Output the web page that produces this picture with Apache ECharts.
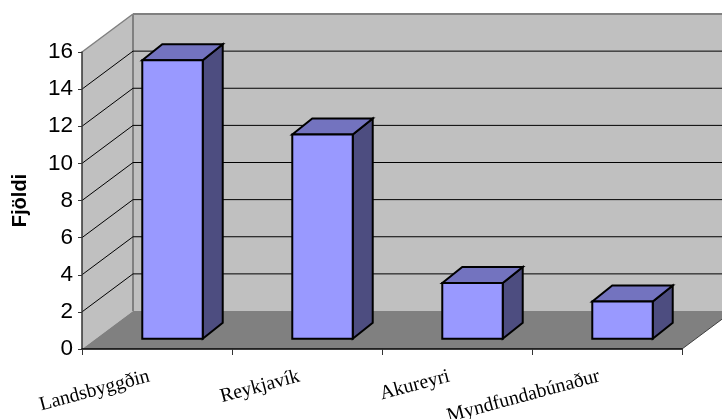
<!DOCTYPE html>
<html><head><meta charset="utf-8">
<style>html,body{margin:0;padding:0;background:#fff}#c{width:722px;height:419px}</style>
<script src="https://cdn.jsdelivr.net/npm/echarts@6/dist/echarts.min.js"></script>
</head><body><div id="c"></div>
<script>
const categories = ['Landsbyggðin','Reykjavík','Akureyri','Myndfundabúnaður'];
const values = [15, 11, 3, 2];
const yMin = 0, yMax = 16, yStep = 2;
const gridTicks = [2,4,6,8,10,12,14];

const WALL_DX = 51, WALL_DY = -38;
const BAR_OFF_X = 15.5, BAR_OFF_Y = -10.3, BAR_DX = 20, BAR_DY = -16, BAR_FRAC = 0.403;

const chart = echarts.init(document.getElementById('c'), null, {renderer:'canvas'});
function poly(points, fill, stroke, lw){
  return {type:'polygon', shape:{points}, style:{fill, stroke: stroke||'none', lineWidth: lw||0, lineJoin:'miter'}};
}
function line(a,b,stroke,lw){
  return {type:'line', shape:{x1:a[0],y1:a[1],x2:b[0],y2:b[1]}, style:{stroke,lineWidth:lw}};
}
chart.setOption({
  animation:false,
  backgroundColor:'#fff',
  grid:{left:82,right:40,top:52,height:297,containLabel:false,outerBoundsMode:'none'},
  xAxis:{type:'category',data:categories,z:10,
    axisLine:{lineStyle:{color:'#000',width:1.5}},
    axisTick:{show:true,alignWithLabel:false,length:6,lineStyle:{color:'#333',width:1}},
    axisLabel:{interval:0,rotate:15,margin:25,color:'#000',fontFamily:'Liberation Serif',fontSize:19.8,hideOverlap:false,padding:[0,8,0,0]},
    splitLine:{show:false}},
  yAxis:{type:'value',min:yMin,max:yMax,interval:yStep,z:10,
    name:'Fjöldi',nameLocation:'middle',nameGap:52,nameRotate:90,
    nameTextStyle:{color:'#000',fontFamily:'Liberation Sans',fontWeight:'bold',fontSize:20},
    axisLine:{show:true,lineStyle:{color:'#333',width:1.5}},
    axisTick:{show:true,length:4,lineStyle:{color:'#333',width:1}},
    axisLabel:{margin:9,color:'#000',fontFamily:'Liberation Sans',fontSize:22.5},
    splitLine:{show:false}},
  series:[
    {type:'custom',z:1,silent:true,clip:false,data:[[0]],
     renderItem(params,api){
       const cs=params.coordSys;
       const x0=cs.x,x1=cs.x+cs.width,y0=cs.y+cs.height,yT=cs.y;
       const t=(p)=>[p[0]+WALL_DX,p[1]+WALL_DY];
       const children=[
         poly([t([x0,yT]),t([x1,yT]),t([x1,y0]),t([x0,y0])],'#c0c0c0'),
         poly([[x0,yT],t([x0,yT]),t([x0,y0]),[x0,y0]],'#c0c0c0'),
         poly([[x0,y0],[x1,y0],t([x1,y0]),t([x0,y0])],'#808080'),
         line([x0,yT],t([x0,yT]),'#808080',1.5),
         line(t([x0,yT]),t([x1,yT]),'#808080',2),
         line(t([x0,yT]),t([x0,y0]),'#808080',2),
         line([x1,y0],t([x1,y0]),'#404040',1)
       ];
       return {type:'group',children};
     }},
    {type:'custom',z:2,silent:true,clip:false,data:gridTicks.map(v=>[0,v]),encode:{x:0,y:1},
     renderItem(params,api){
       const cs=params.coordSys;
       const y=api.coord([0,api.value(1)])[1];
       const a=[cs.x,y], b=[cs.x+WALL_DX,y+WALL_DY], c=[cs.x+cs.width+WALL_DX,y+WALL_DY];
       return {type:'group',children:[line(a,b,'#000',1),line(b,c,'#000',1)]};
     }},
    {type:'custom',z:3,silent:true,clip:false,
     data:values.map((v,i)=>[i,v]),encode:{x:0,y:1},
     renderItem(params,api){
       const idx=api.value(0), v=api.value(1);
       const c=api.coord([idx,v]), base=api.coord([idx,yMin]);
       const w=api.size([1,0])[0]*BAR_FRAC;
       const xl=c[0]+BAR_OFF_X-w/2, xr=xl+w;
       const yt=c[1]+BAR_OFF_Y, yb=base[1]+BAR_OFF_Y;
       const S='#000', L=2;
       return {type:'group',children:[
         poly([[xr,yt],[xr+BAR_DX,yt+BAR_DY],[xr+BAR_DX,yb+BAR_DY],[xr,yb]],'#4d4d80',S,L),
         poly([[xl,yt],[xl+BAR_DX,yt+BAR_DY],[xr+BAR_DX,yt+BAR_DY],[xr,yt]],'#7373bf',S,L),
         poly([[xl,yt],[xr,yt],[xr,yb],[xl,yb]],'#9999ff',S,L)
       ]};
     }}
  ]
});
</script></body></html>
